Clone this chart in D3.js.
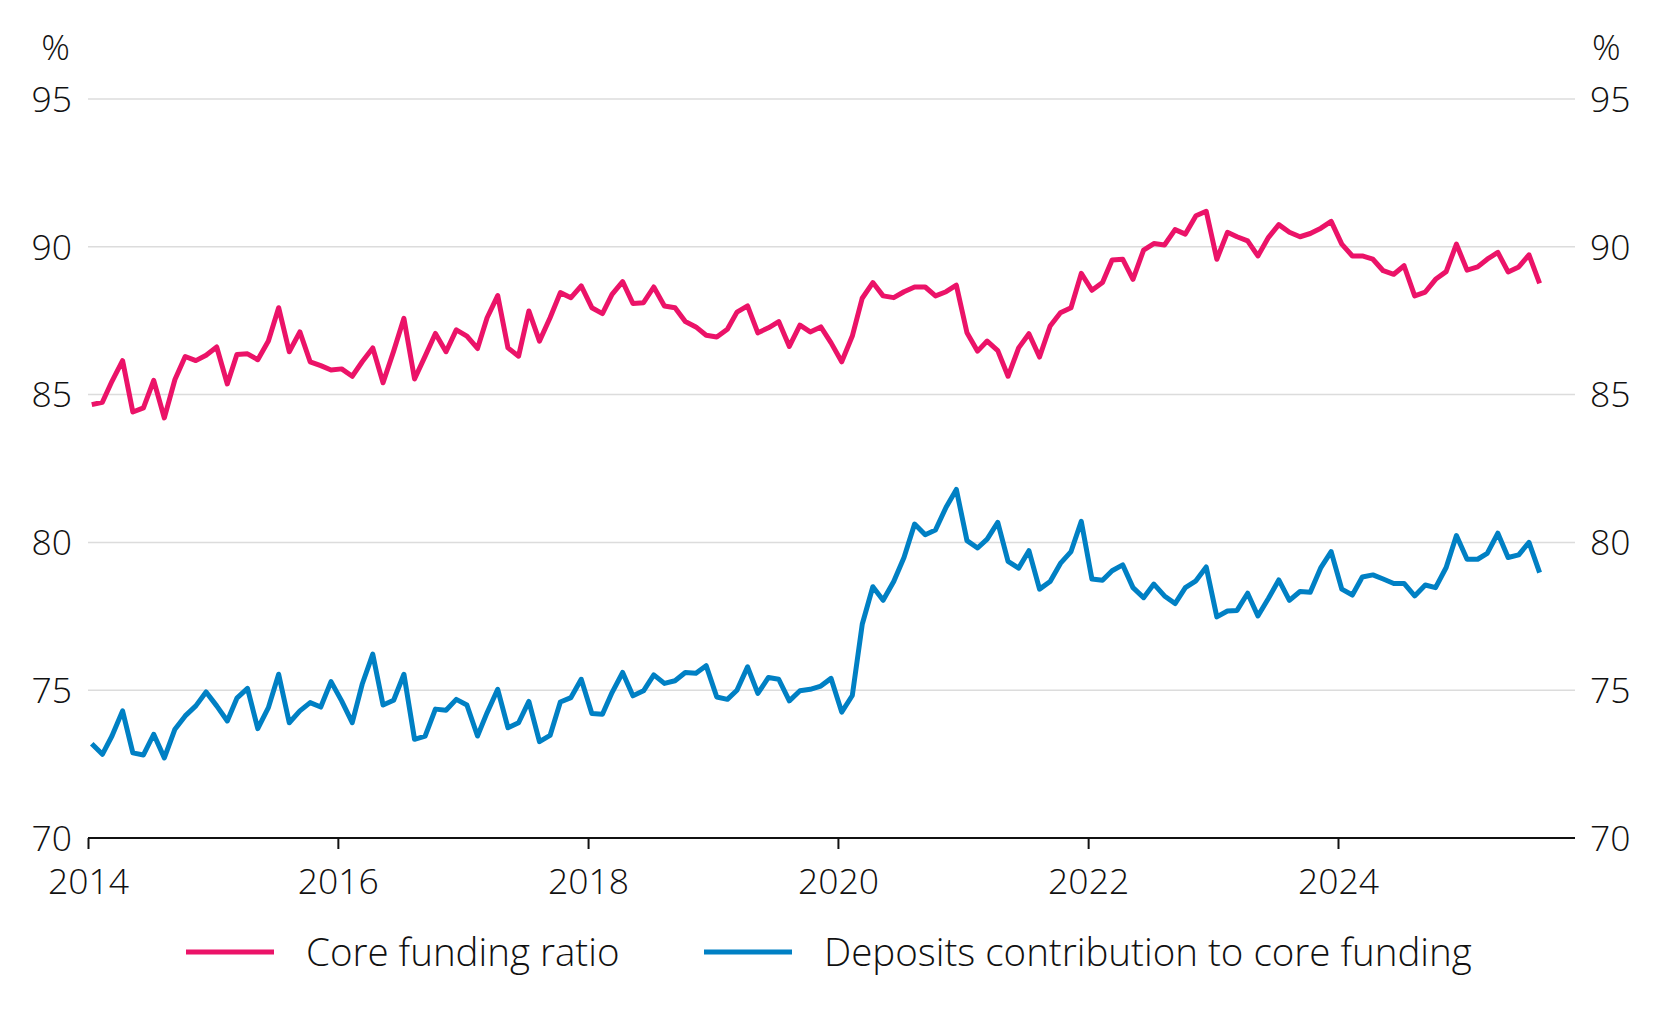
<!DOCTYPE html>
<html>
<head>
<meta charset="utf-8">
<script src="https://cdn.jsdelivr.net/npm/d3@7"></script>
<style>
  body { margin: 0; background: #fff; }
  text { font-family: "Open Sans", "Noto Sans", sans-serif; font-weight: 300; fill: #111; }
</style>
</head>
<body>
<svg id="chart"></svg>
<script>
// monthly, Jan 2014 - Aug 2025
var startYear = 2014;
var coreFunding = [
    84.66, 84.74, 85.45, 86.15, 84.41, 84.55, 85.48, 84.21, 85.51, 86.29, 86.15, 86.33,
    86.61, 85.36, 86.36, 86.38, 86.18, 86.81, 87.94, 86.45, 87.12, 86.11, 85.98, 85.83,
    85.87, 85.62, 86.11, 86.58, 85.40, 86.47, 87.58, 85.53, 86.30, 87.07, 86.45, 87.19,
    86.98, 86.56, 87.60, 88.35, 86.58, 86.30, 87.83, 86.81, 87.60, 88.45, 88.28, 88.68,
    87.94, 87.74, 88.39, 88.82, 88.08, 88.11, 88.64, 88.00, 87.94, 87.47, 87.29, 87.01,
    86.95, 87.21, 87.79, 88.00, 87.09, 87.26, 87.47, 86.63, 87.35, 87.12, 87.29, 86.75,
    86.11, 86.98, 88.26, 88.79, 88.34, 88.28, 88.48, 88.64, 88.64, 88.34, 88.48, 88.70,
    87.09, 86.47, 86.81, 86.49, 85.62, 86.58, 87.06, 86.27, 87.32, 87.77, 87.94, 89.10,
    88.53, 88.79, 89.55, 89.58, 88.90, 89.89, 90.11, 90.06, 90.58, 90.43, 91.05, 91.20,
    89.58, 90.49, 90.34, 90.20, 89.69, 90.32, 90.75, 90.49, 90.34, 90.45, 90.63, 90.86,
    90.09, 89.69, 89.69, 89.58, 89.19, 89.07, 89.36, 88.34, 88.47, 88.90, 89.16, 90.09,
    89.21, 89.32, 89.58, 89.81, 89.15, 89.32, 89.73, 88.76
];
var deposits = [
    73.19, 72.83, 73.45, 74.30, 72.88, 72.81, 73.51, 72.71, 73.68, 74.13, 74.47, 74.94,
    74.47, 73.96, 74.73, 75.06, 73.70, 74.41, 75.54, 73.90, 74.30, 74.58, 74.43, 75.29,
    74.64, 73.90, 75.20, 76.22, 74.50, 74.66, 75.54, 73.34, 73.45, 74.36, 74.32, 74.69,
    74.50, 73.45, 74.24, 75.03, 73.73, 73.90, 74.62, 73.26, 73.47, 74.60, 74.75, 75.37,
    74.21, 74.19, 74.92, 75.60, 74.81, 74.98, 75.52, 75.23, 75.32, 75.60, 75.57, 75.83,
    74.77, 74.69, 75.00, 75.79, 74.89, 75.43, 75.37, 74.64, 74.98, 75.03, 75.14, 75.40,
    74.26, 74.82, 77.23, 78.50, 78.04, 78.68, 79.49, 80.62, 80.26, 80.42, 81.19, 81.79,
    80.06, 79.81, 80.11, 80.68, 79.36, 79.13, 79.72, 78.42, 78.68, 79.29, 79.69, 80.71,
    78.76, 78.72, 79.04, 79.24, 78.47, 78.13, 78.59, 78.19, 77.93, 78.47, 78.70, 79.17,
    77.48, 77.68, 77.70, 78.28, 77.51, 78.11, 78.73, 78.04, 78.34, 78.31, 79.15, 79.69,
    78.42, 78.22, 78.83, 78.90, 78.76, 78.61, 78.61, 78.19, 78.56, 78.47, 79.15, 80.23,
    79.43, 79.43, 79.63, 80.31, 79.49, 79.58, 80.00, 78.98
];
var seriesNames = ["Core funding ratio", "Deposits contribution to core funding"];
var seriesColors = ["#eb1368", "#0080c4"];
var yTicks = [70, 75, 80, 85, 90, 95];
var xTickYears = [2014, 2016, 2018, 2020, 2022, 2024];

(function() {
    var W = 1664, H = 1022;
    var margin = {left: 88, right: 1575, top: 99, bottom: 838};

    var svg = d3.select("#chart").attr("width", W).attr("height", H);

    var xScale = d3.scaleTime()
        .domain([new Date(2014, 0, 1), new Date(2024, 0, 1)])
        .range([margin.left, 1338]);

    var yScale = d3.scaleLinear()
        .domain([70, 95])
        .range([margin.bottom, margin.top]);

    function monthDate(i) { return new Date(startYear + Math.floor(i / 12), i % 12, 12); }

    // gridlines
    svg.append("g")
        .selectAll("line")
        .data(yTicks.filter(function(d) { return d > 70; }))
        .enter().append("line")
        .attr("x1", margin.left).attr("x2", margin.right)
        .attr("y1", function(d) { return yScale(d); })
        .attr("y2", function(d) { return yScale(d); })
        .attr("stroke", "#dcdcdc")
        .attr("stroke-width", 1.5);

    // left & right tick labels
    svg.append("g").selectAll("text")
        .data(yTicks).enter().append("text")
        .attr("x", 72).attr("y", function(d) { return yScale(d); })
        .attr("dy", "0.36em")
        .style("text-anchor", "end")
        .style("font-size", "35.5px")
        .text(function(d) { return d; });

    svg.append("g").selectAll("text")
        .data(yTicks).enter().append("text")
        .attr("x", 1590).attr("y", function(d) { return yScale(d); })
        .attr("dy", "0.36em")
        .style("text-anchor", "start")
        .style("font-size", "35.5px")
        .text(function(d) { return d; });

    svg.append("text").attr("x", 70).attr("y", 60)
        .style("text-anchor", "end").style("font-size", "35.5px").text("%");
    svg.append("text").attr("x", 1592).attr("y", 60)
        .style("text-anchor", "start").style("font-size", "35.5px").text("%");

    // x axis
    var xAxis = d3.axisBottom(xScale)
        .tickValues(xTickYears.map(function(y) { return new Date(y, 0, 1); }))
        .tickFormat(d3.timeFormat("%Y"))
        .tickSize(11)
        .tickPadding(20);

    var xg = svg.append("g")
        .attr("transform", "translate(0," + margin.bottom + ")")
        .call(xAxis);
    xg.select(".domain").remove();
    xg.selectAll(".tick line").attr("stroke", "#111").attr("stroke-width", 2);
    xg.selectAll(".tick text")
        .style("font-size", "35.5px")
        .style("font-family", "'Open Sans', 'Noto Sans', sans-serif")
        .style("font-weight", 300)
        .attr("fill", "#111");

    svg.append("line")
        .attr("x1", margin.left).attr("x2", margin.right)
        .attr("y1", margin.bottom).attr("y2", margin.bottom)
        .attr("stroke", "#111").attr("stroke-width", 2);

    // lines
    var line = d3.line()
        .x(function(d, i) { return xScale(monthDate(i)); })
        .y(function(d) { return yScale(d); });

    [coreFunding, deposits].forEach(function(series, k) {
        svg.append("path")
            .datum(series)
            .attr("fill", "none")
            .attr("stroke", seriesColors[k])
            .attr("stroke-width", 5)
            .attr("stroke-linejoin", "round")
            .attr("d", line);
    });

    // legend
    var legendX = [186, 704];
    var legend = svg.selectAll(".legend")
        .data(seriesNames)
        .enter().append("g")
        .attr("class", "legend")
        .attr("transform", function(d, i) { return "translate(" + legendX[i] + ",952)"; });

    legend.append("line")
        .attr("x1", 0).attr("x2", 88)
        .attr("stroke", function(d, i) { return seriesColors[i]; })
        .attr("stroke-width", 5);

    legend.append("text")
        .attr("x", 120)
        .attr("dy", "0.36em")
        .style("font-size", "38.5px")
        .text(function(d) { return d; });
})();
</script>
</body>
</html>
